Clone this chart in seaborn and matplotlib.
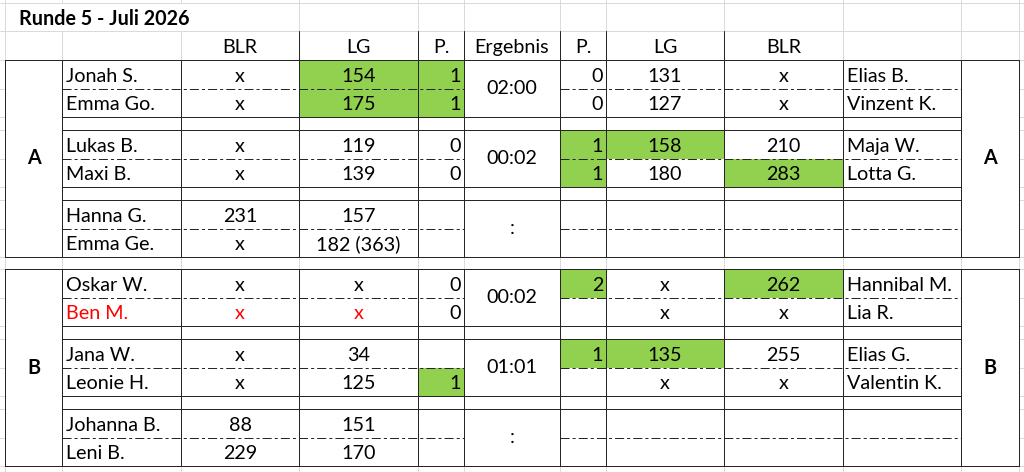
import matplotlib.pyplot as plt
import seaborn as sns
from matplotlib.patches import Rectangle

# table content, section A
names_left_A = ["Jonah S.", "Emma Go.", "Lukas B.", "Maxi B.", "Hanna G.", "Emma Ge."]
blr_left_A = ["x", "x", "x", "x", "231", "x"]
lg_left_A = ["154", "175", "119", "139", "157", "182 (363)"]
p_left_A = ["1", "1", "0", "0", "", ""]
result_A = ["02:00", "00:02", ":"]
p_right_A = ["0", "0", "1", "1", "", ""]
lg_right_A = ["131", "127", "158", "180", "", ""]
blr_right_A = ["x", "x", "210", "283", "", ""]
names_right_A = ["Elias B.", "Vinzent K.", "Maja W.", "Lotta G.", "", ""]
# highlighted cells (column, row)
green_A = [(3, 0), (3, 1), (4, 0), (4, 1), (6, 2), (6, 3), (7, 2), (8, 3)]

# section B
names_left_B = ["Oskar W.", "Ben M.", "Jana W.", "Leonie H.", "Johanna B.", "Leni B."]
blr_left_B = ["x", "x", "x", "x", "88", "229"]
lg_left_B = ["x", "x", "34", "125", "151", "170"]
p_left_B = ["0", "0", "", "1", "", ""]
result_B = ["00:02", "01:01", ":"]
p_right_B = ["2", "", "1", "", "", ""]
lg_right_B = ["x", "x", "135", "x", "", ""]
blr_right_B = ["262", "x", "255", "x", "", ""]
names_right_B = ["Hannibal M.", "Lia R.", "Elias G.", "Valentin K.", "", ""]
green_B = [(4, 3), (6, 0), (8, 0), (6, 2), (7, 2)]
red_rows_B = [1]

title = "Runde 5 - Juli 2026"
header = ["BLR", "LG", "P.", "Ergebnis", "P.", "LG", "BLR"]

# layout (pixels)
col_edges = [5, 62, 181, 299, 418, 464, 560, 606, 724, 843, 961, 1019]
row_h = 28.5
gap_h = 13
GREEN = "#92D050"
LINE = "#262626"
GRID = "#DADADA"

sns.set_theme(style="white")
plt.rcParams['font.family'] = ['Lato', 'DejaVu Sans']
plt.rcParams['lines.scale_dashes'] = False
FS = 14.2

fig = plt.figure(figsize=(10.24, 4.72), dpi=100)
ax = fig.add_axes([0, 0, 1, 1])
ax.set_xlim(0, 1024)
ax.set_ylim(472, 0)
ax.axis('off')

px = 0.72  # one pixel in points


def row_top(top, i):
    k, j = divmod(i, 2)
    return top + k * (2 * row_h + gap_h) + j * row_h


def section_rows(top):
    ys = []
    for k in range(3):
        y0 = top + k * (2 * row_h + gap_h)
        ys += [y0, y0 + row_h, y0 + 2 * row_h]
        if k < 2:
            ys.append(y0 + 2 * row_h + gap_h)
    return ys


# excel grid lines
secA_top, secB_top = 60, 269
grid_y = [3, 31] + section_rows(secA_top) + section_rows(secB_top)
for y in grid_y:
    ax.plot([0, 1024], [y, y], color=GRID, lw=px, zorder=0)
for x in col_edges:
    ax.plot([x, x], [0, 472], color=GRID, lw=px, zorder=0)
# title cell covers grid lines
ax.add_patch(Rectangle((6, 3.5), 240, 27, color="white", zorder=0.5, lw=0))
ax.text(19, 25, title, fontsize=FS, fontweight='bold', color='black', zorder=3)

# header
for i, h in enumerate(header):
    xc = (col_edges[2 + i] + col_edges[3 + i]) / 2
    ax.text(xc, 53, h, fontsize=FS, ha='center', va='baseline', color='black', zorder=3)
for x in [299, 418, 464, 560, 606, 724]:
    ax.plot([x, x], [31, 60], color=LINE, lw=px, zorder=2)


def draw_section(top, group, cols, results, greens, red_rows=()):
    bottom = top + 3 * 2 * row_h + 2 * gap_h
    # green fills
    for c, r in greens:
        y0 = row_top(top, r)
        ax.add_patch(Rectangle((col_edges[c], y0), col_edges[c + 1] - col_edges[c], row_h,
                               color=GREEN, lw=0, zorder=1))
    # white background behind the section (cover grid)
    ax.add_patch(Rectangle((col_edges[0], top), col_edges[-1] - col_edges[0], bottom - top,
                           color="white", lw=0, zorder=0.5))
    # outer horizontals
    ax.plot([col_edges[0], col_edges[-1]], [top, top], color=LINE, lw=px, zorder=2)
    ax.plot([col_edges[0], col_edges[-1]], [bottom, bottom], color=LINE, lw=px, zorder=2)
    # inner pair borders
    for k in range(3):
        y0 = top + k * (2 * row_h + gap_h)
        ym = y0 + row_h
        y1 = y0 + 2 * row_h
        if k > 0:
            ax.plot([col_edges[1], col_edges[-2]], [y0, y0], color=LINE, lw=px, zorder=2)
        if k < 2:
            ax.plot([col_edges[1], col_edges[-2]], [y1, y1], color=LINE, lw=px, zorder=2)
        for xa, xb in [(col_edges[1], col_edges[5]), (col_edges[6], col_edges[10])]:
            ax.plot([xa, xb], [ym, ym], color=LINE, lw=px, zorder=2,
                    linestyle=(0, (6.5, 2.2, 2.2, 2.2)))
        ax.text((col_edges[5] + col_edges[6]) / 2, y0 + row_h + 5.5, results[k],
                fontsize=FS, ha='center', va='baseline', color='black', zorder=3)
    # verticals
    for x in col_edges:
        ax.plot([x, x], [top, bottom], color=LINE, lw=px, zorder=2)
    # group labels
    yc = (top + bottom) / 2
    for c in (0, 10):
        ax.text((col_edges[c] + col_edges[c + 1]) / 2, yc + 6, group, fontsize=FS,
                fontweight='bold', ha='center', va='baseline', color='black', zorder=3)
    # cell texts
    col_index = [1, 2, 3, 4, 6, 7, 8, 9]
    aligns = ['left', 'center', 'center', 'right', 'right', 'center', 'center', 'left']
    for values, c, al in zip(cols, col_index, aligns):
        for r, v in enumerate(values):
            if not v:
                continue
            yb = row_top(top, r) + row_h / 2 + 7.5
            if al == 'left':
                x = col_edges[c] + 4
            elif al == 'right':
                x = col_edges[c + 1] - 3
            else:
                x = (col_edges[c] + col_edges[c + 1]) / 2
            color = 'red' if (r in red_rows and c in (1, 2, 3)) else 'black'
            ax.text(x, yb, v, fontsize=FS, ha=al, va='baseline', color=color, zorder=3)


draw_section(secA_top, "A",
             [names_left_A, blr_left_A, lg_left_A, p_left_A,
              p_right_A, lg_right_A, blr_right_A, names_right_A],
             result_A, green_A)
draw_section(secB_top, "B",
             [names_left_B, blr_left_B, lg_left_B, p_left_B,
              p_right_B, lg_right_B, blr_right_B, names_right_B],
             result_B, green_B, red_rows_B)

fig.savefig("out.png", dpi=100, facecolor="white")
